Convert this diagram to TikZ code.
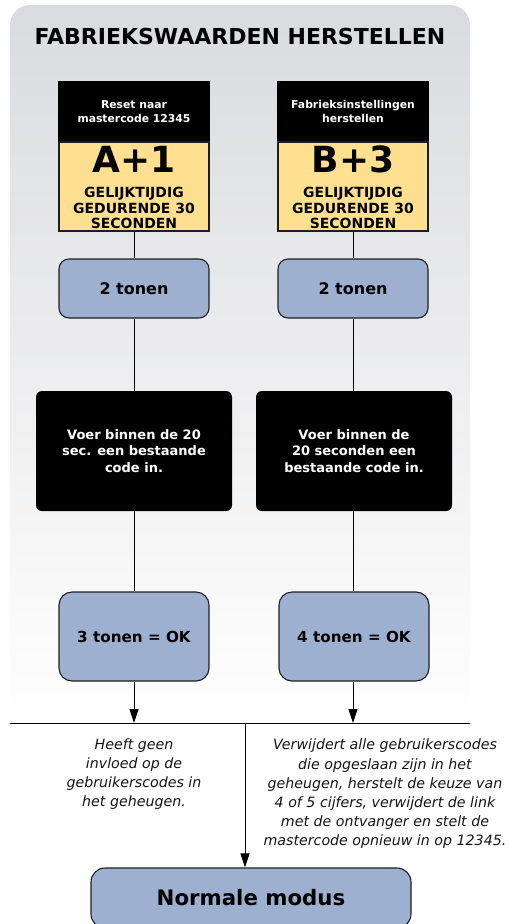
\documentclass[tikz,border=0pt]{standalone}
\usepackage{fontspec}
\setmainfont{DejaVu Sans}
\usetikzlibrary{arrows.meta}
\definecolor{boxblue}{RGB}{158,176,208}
\definecolor{boxyellow}{RGB}{255,224,145}
\definecolor{panelgray}{RGB}{218,219,222}
\definecolor{edge}{RGB}{30,30,30}
\begin{document}
\begin{tikzpicture}[x=1pt,y=-1pt,
  hdr/.style={fill=black, text=white, font=\bfseries\fontsize{10.8}{13.3}\selectfont, minimum width=152pt, minimum height=61pt, inner sep=0pt, align=center},
  ylw/.style={fill=boxyellow, draw=edge, line width=1.1pt, minimum width=150pt, minimum height=89pt, inner sep=0pt},
  big/.style={font=\bfseries\fontsize{36}{38}\selectfont, inner sep=0pt},
  hold/.style={font=\bfseries\fontsize{14}{15.2}\selectfont, align=center, inner sep=0pt},
  tone/.style={fill=boxblue, draw=edge, line width=1.1pt, rounded corners=10pt, minimum width=150pt, minimum height=59pt, inner sep=0pt, font=\bfseries\fontsize{16}{18}\selectfont},
  codebox/.style={fill=black, rounded corners=6pt, text=white, minimum width=196pt, minimum height=120pt, inner sep=0pt, align=center, font=\bfseries\fontsize{13}{16.3}\selectfont},
  okbox/.style={fill=boxblue, draw=edge, line width=1.1pt, rounded corners=13pt, minimum width=150pt, minimum height=89pt, inner sep=0pt, font=\bfseries\fontsize{15.2}{18}\selectfont},
  normbox/.style={fill=boxblue, draw=edge, line width=1.1pt, rounded corners=14pt, minimum width=320pt, minimum height=60pt, inner sep=0pt, font=\bfseries\fontsize{21.3}{24}\selectfont},
  note/.style={font=\itshape\fontsize{14.2}{19.2}\selectfont, align=center, text=black!92, inner sep=0pt},
  conn/.style={line width=0.9pt, draw=black},
  arr/.style={conn, -{Triangle[length=14pt,width=9pt]}}
]
\useasboundingbox (0,0) rectangle (509,924);
\clip (0,0) rectangle (509,924);
\shade[top color=panelgray, bottom color=white, rounded corners=20pt] (10,5) rectangle (470,723);

\node[font=\bfseries\fontsize{22}{24}\selectfont, inner sep=0pt] (title) at (240,36) {FABRIEKSWAARDEN HERSTELLEN};

% left column
\node[hdr] (hL) at (134,111.5) {Reset naar\\mastercode 12345};
\node[ylw] (yL) at (134,186.5) {};
\node[big] (kL) at (134,159.5) {A+1};
\node[hold] (gL) at (134,208) {GELIJKTIJDIG\\GEDURENDE 30\\SECONDEN};
\node[tone] (tL) at (134,288.5) {2 tonen};
\node[codebox] (cL) at (134,451) {Voer binnen de 20\\sec. een bestaande\\code in.};
\node[okbox] (oL) at (134,636.5) {3 tonen = OK};

% right column
\node[hdr] (hR) at (353,111.5) {Fabrieksinstellingen\\herstellen};
\node[ylw] (yR) at (353,186.5) {};
\node[big] (kR) at (353,159.5) {B+3};
\node[hold] (gR) at (353,208) {GELIJKTIJDIG\\GEDURENDE 30\\SECONDEN};
\node[tone] (tR) at (353,288.5) {2 tonen};
\node[codebox] (cR) at (354,451) {Voer binnen de\\20 seconden een\\bestaande code in.};
\node[okbox] (oR) at (354,636.5) {4 tonen = OK};

% connectors
\draw[conn] (yL.south) -- (tL.north);
\draw[conn] (tL.south) -- (cL.north -| tL.south);
\draw[conn] (cL.south -| tL.south) -- (oL.north -| tL.south);
\draw[conn] (yR.south) -- (tR.north);
\draw[conn] (tR.south) -- (cR.north -| tR.south);
\draw[conn] (cR.south -| tR.south) -- (oR.north -| tR.south);

\coordinate (lineL) at (10,723);
\coordinate (lineR) at (470,723);
\coordinate (mid) at (245,723);
\draw[conn] (lineL) -- (lineR);
\draw[arr] (oL.south -| tL.south) -- (lineL -| tL.south);
\draw[arr] (oR.south -| tR.south) -- (lineL -| tR.south);

\node[normbox] (norm) at (251,898) {Normale modus};
\draw[arr] (mid) -- (mid |- norm.north);

\node[note] (nL) at (134,774) {Heeft geen\\invloed op de\\gebruikerscodes in\\het geheugen.};
\node[note] (nR) at (385,794) {Verwijdert alle gebruikerscodes\\die opgeslaan zijn in het\\geheugen, herstelt de keuze van\\4 of 5 cijfers, verwijdert de link\\met de ontvanger en stelt de\\mastercode opnieuw in op 12345.};
\end{tikzpicture}
\end{document}
